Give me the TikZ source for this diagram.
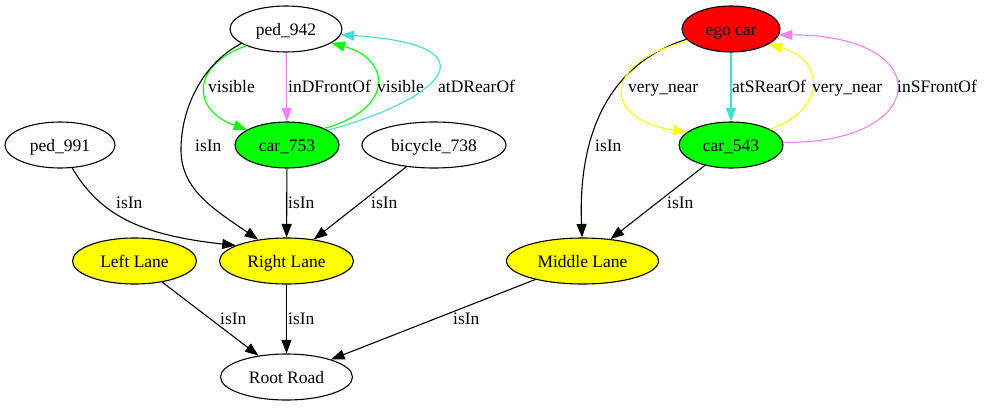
\documentclass[tikz,border=0pt]{standalone}
\usepackage{fontspec}
\setmainfont{Liberation Serif}
\usetikzlibrary{arrows.meta,shapes.geometric}
\definecolor{gvgreen}{HTML}{00FF00}
\definecolor{gvyellow}{HTML}{FFFF00}
\definecolor{gvred}{HTML}{FF0000}
\definecolor{gvviolet}{HTML}{EE82EE}
\definecolor{gvturq}{HTML}{40E0D0}
\begin{document}
\begin{tikzpicture}[x=1pt,y=-1pt,
  every node/.style={font=\fontsize{17.5}{20}\selectfont},
  ent/.style={ellipse, draw=black, line width=1.1pt, inner sep=0pt, minimum height=46pt, text height=12pt, text depth=0pt},
  lbl/.style={anchor=base west, inner sep=0pt},
  conn/.style={line width=1.1pt, -{Triangle[length=13.5pt,width=10pt]}},
]
\useasboundingbox (0,0) rectangle (985,407);
% nodes
\node[ent, minimum width=112pt] (ped942) at (286,29) {ped\_942};
\node[ent, minimum width=104pt, fill=gvgreen] (car753) at (287,145) {car\_753};
\node[ent, minimum width=144pt] (bicycle738) at (434,145) {bicycle\_738};
\node[ent, minimum width=110pt] (ped991) at (60,145) {ped\_991};
\node[ent, minimum width=98pt, fill=gvred] (ego) at (731,29) {ego car};
\node[ent, minimum width=104pt, fill=gvgreen] (car543) at (731,145) {car\_543};
\node[ent, minimum width=124pt, fill=gvyellow] (llane) at (134.5,261) {Left Lane};
\node[ent, minimum width=134pt, fill=gvyellow] (rlane) at (286.5,261) {Right Lane};
\node[ent, minimum width=152pt, fill=gvyellow] (mlane) at (582.5,261) {Middle Lane};
\node[ent, minimum width=132pt] (root) at (286.5,377) {Root Road};

% edges around ped_942 / car_753
\draw[conn, gvgreen] (ped942.203) .. controls (191,65) and (191,110) .. (car753.159);
\node[lbl] (l1) at (208,92) {visible};
\draw[conn, gvviolet] (ped942) -- (car753);
\node[lbl] (l2) at (288,92) {inDFrontOf};
\draw[conn, gvgreen] (car753.24) .. controls (393,110) and (393,60) .. (ped942.343);
\node[lbl] (l3) at (377,92) {visible};
\draw[conn, gvturq] (car753.20) .. controls (440,100) and (500,45) .. (ped942.354);
\node[lbl] (l4) at (438,92) {atDRearOf};

% isIn edges to Right Lane
\draw[conn, black] (ped942.198) .. controls (205,62) and (181,105) .. (181,150) .. controls (181,190) and (215,210) .. (rlane.143);
\node[lbl] (l5) at (195,151) {isIn};
\draw[conn, black] (ped991.298) .. controls (100,215) and (140,235) .. (rlane.163);
\node[lbl] (l6) at (116,208) {isIn};
\draw[conn, black] (car753) -- (rlane);
\node[lbl] (l7) at (288,208) {isIn};
\draw[conn, black] (bicycle738) -- (rlane);
\node[lbl] (l8) at (371,208) {isIn};

% to Root Road
\draw[conn, black] (llane) -- (root);
\node[lbl] (l9) at (220,324) {isIn};
\draw[conn, black] (rlane) -- (root);
\node[lbl] (l10) at (288,324) {isIn};
\draw[conn, black] (mlane) -- (root);
\node[lbl] (l11) at (453,324) {isIn};

% ego car / car_543
\draw[conn, black] (ego.193) .. controls (605,65) and (578,140) .. (mlane.91);
\node[lbl] (l12) at (595,151) {isIn};
\draw[conn, gvyellow] (ego.196) .. controls (605,60) and (598,118) .. (car543.164);
\node[lbl] (l13) at (628,92) {very\_near};
\draw[conn, gvturq] (ego) -- (car543);
\node[lbl] (l14) at (732,92) {atSRearOf};
\draw[conn, gvyellow] (car543.22) .. controls (826,110) and (826,60) .. (ego.338);
\node[lbl] (l15) at (812,92) {very\_near};
\draw[conn, gvviolet] (car543.3) .. controls (930,145) and (940,35) .. (ego.353);
\node[lbl] (l16) at (897,92) {inSFrontOf};
\draw[conn, black] (car543) -- (mlane);
\node[lbl] (l17) at (667,208) {isIn};
\end{tikzpicture}
\end{document}
